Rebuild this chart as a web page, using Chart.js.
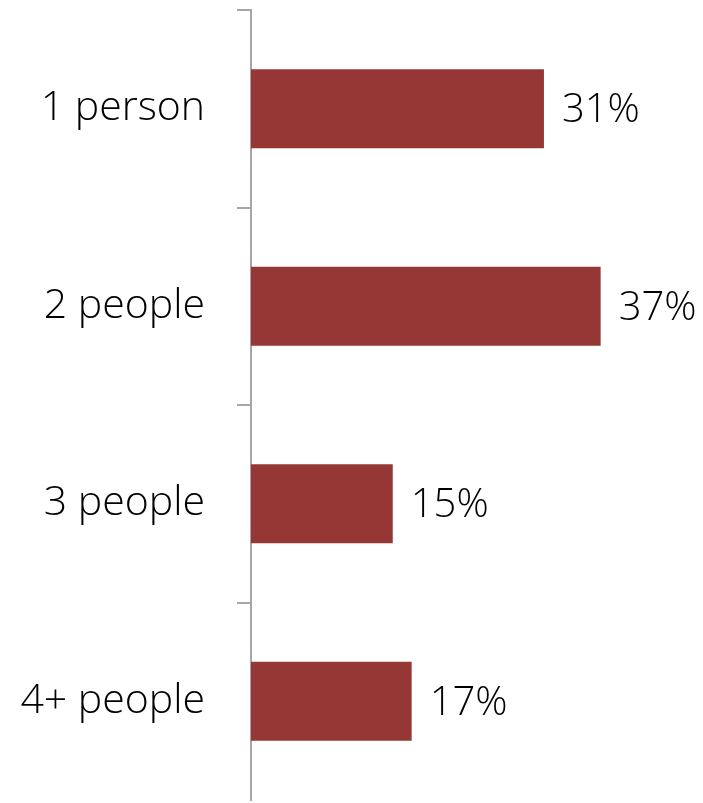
<!DOCTYPE html>
<html>
<head>
<meta charset="utf-8">
<script src="https://cdn.jsdelivr.net/npm/chart.js@4/dist/chart.umd.min.js"></script>
<style>
  html, body { margin: 0; padding: 0; background: #fff; }
  #wrap { width: 703px; height: 803px; position: relative; }
</style>
</head>
<body>
<div id="wrap"><canvas id="chart"></canvas></div>
<script>
const categories = ['1 person', '2 people', '3 people', '4+ people'];
const shares = [31, 37, 15, 17];

const barColor = '#953735';
const axisColor = '#a6a6a6';
const fontFamily = "'Open Sans', sans-serif";

// Draw the percentage text just past the end of each bar
const valueLabels = {
  id: 'valueLabels',
  afterDatasetsDraw(chart) {
    const ctx = chart.ctx;
    const meta = chart.getDatasetMeta(0);
    ctx.save();
    ctx.font = `300 40px ${fontFamily}`;
    ctx.fillStyle = '#000';
    ctx.textAlign = 'left';
    ctx.textBaseline = 'middle';
    meta.data.forEach((bar, i) => {
      ctx.fillText(`${shares[i]}%`, bar.x + 18, bar.y + 2);
    });
    ctx.restore();
  }
};

new Chart(document.getElementById('chart').getContext('2d'), {
  type: 'bar',
  data: {
    labels: categories,
    datasets: [{
      data: shares,
      backgroundColor: barColor,
      borderWidth: 0,
      barPercentage: 0.4,
      categoryPercentage: 1
    }]
  },
  options: {
    indexAxis: 'y',
    responsive: true,
    maintainAspectRatio: false,
    animation: false,
    layout: { padding: { top: 10, right: 74, bottom: 3, left: 0 } },
    plugins: { legend: { display: false }, tooltip: { enabled: false } },
    scales: {
      x: {
        display: false,
        min: 0,
        max: 40
      },
      y: {
        afterFit: scale => {
          scale.width = 251;
          scale.paddingTop = 0;
          scale.paddingBottom = 0;
        },
        border: { display: true, color: axisColor, width: 2 },
        grid: {
          display: true,
          drawOnChartArea: false,
          drawTicks: true,
          tickLength: 14,
          // the extra offset line at the bottom has no tick context -> hide it
          color: c => c.type === 'tick' ? axisColor : 'rgba(0,0,0,0)',
          lineWidth: 2,
          offset: true
        },
        ticks: {
          color: '#000',
          padding: 32,
          font: { family: fontFamily, size: 41, weight: 300 }
        }
      }
    }
  },
  plugins: [valueLabels]
});
</script>
</body>
</html>
